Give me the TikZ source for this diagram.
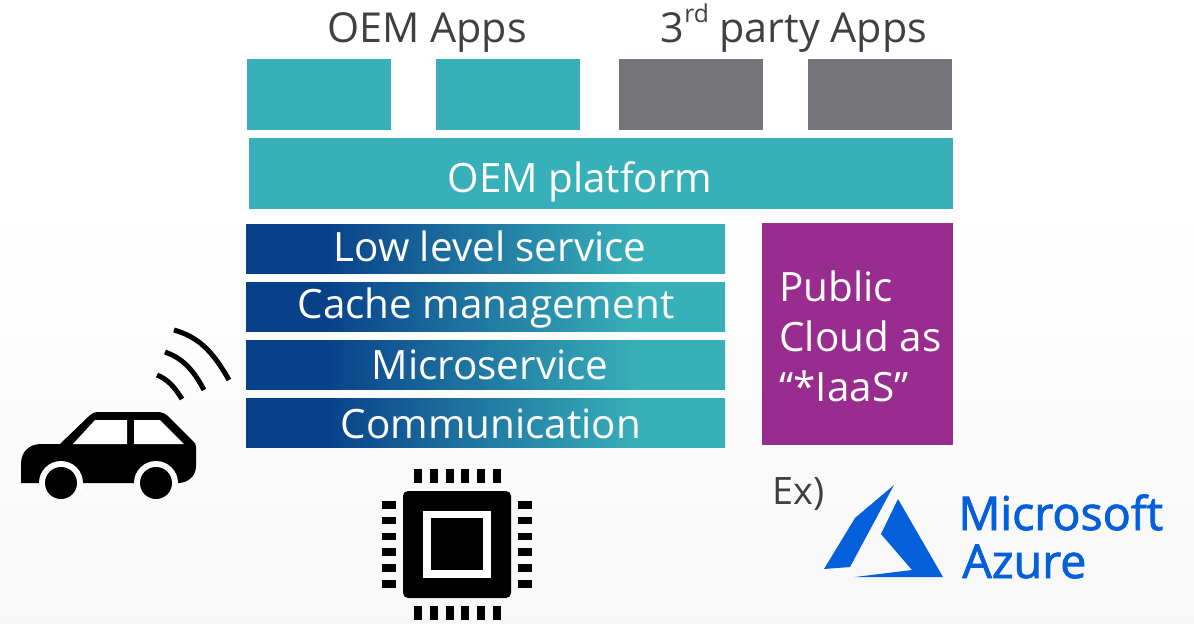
\documentclass[tikz,border=0pt]{standalone}
\usepackage{fontspec}
\setmainfont{Open Sans}
\newfontfamily\azurefont[FakeBold=1.8]{Open Sans}
\definecolor{tealbox}{HTML}{38B0B9}
\definecolor{greybox}{HTML}{757479}
\definecolor{bluebar}{HTML}{08408A}
\definecolor{purplebox}{HTML}{982D8F}
\definecolor{darktext}{HTML}{404040}
\definecolor{azureblue}{HTML}{045FDB}
\pgfdeclarehorizontalshading{barshade}{100bp}{color(0bp)=(bluebar); color(33bp)=(bluebar); color(66bp)=(tealbox); color(100bp)=(tealbox)}
\pgfdeclareverticalshading{backshade}{100bp}{color(0bp)=(black!3); color(25bp)=(black!3); color(59bp)=(white); color(100bp)=(white)}
\tikzset{
  box/.style={anchor=north west,inner sep=0pt,outer sep=0pt,minimum width=144*0.02cm,minimum height=71*0.02cm},
  bar/.style={anchor=north west,inner sep=0pt,outer sep=0pt,shading=barshade,minimum width=479*0.02cm,minimum height=49*0.02cm},
  bartext/.style={anchor=base,inner sep=0pt,text=white,font=\fontsize{23}{23}\selectfont},
  heading/.style={anchor=base,text=darktext,inner sep=0pt,font=\fontsize{23.5}{23.5}\selectfont},
  azuretext/.style={anchor=base west,inner sep=0pt,text=azureblue,font=\azurefont\fontsize{26.5}{26.5}\selectfont}
}
\begin{document}
\begin{tikzpicture}[x=0.02cm,y=-0.02cm]
\useasboundingbox (0,0) rectangle (1194,623);
\shade[shading=backshade] (0,0) rectangle (1194,623);
\node[heading] at (427,42) (oemapps) {OEM Apps}; \node[heading] at (794,42) (thirdapps) {3{\fontsize{14}{14}\selectfont\raisebox{11pt}{rd}} party Apps};
\node[box,fill=tealbox] at (247,59) (app1) {}; \node[box,fill=tealbox] at (436,59) (app2) {};
\node[box,fill=greybox] at (619,59) (app3) {}; \node[box,fill=greybox] at (808,59) (app4) {};
\node[box,fill=tealbox,minimum width=704*0.02cm] at (249,138) (platform) {};
\node[bartext] at (580,192) (platformtext) {OEM platform};
\node[bar] at (246,224) (lowlevel) {}; \node[bartext] at (490,261) (lowleveltext) {Low level service};
\node[bar] at (246,282) (cache) {}; \node[bartext] at (486,318) (cachetext) {Cache management};
\node[bar] at (246,340) (micro) {}; \node[bartext] at (490,379) (microtext) {Microservice};
\node[bar] at (246,398) (comm) {}; \node[bartext] at (491,438) (commtext) {Communication};
\node[box,fill=purplebox,minimum width=191*0.02cm,minimum height=222*0.02cm] at (762,223) (cloud) {};
\node[anchor=west,inner sep=0pt,align=left,text=white,font=\fontsize{23}{28.5}\selectfont] at (779,336) (cloudtext) {Public\\Cloud as\\“*IaaS”};
\node[heading,anchor=west,font=\fontsize{21.5}{21.5}\selectfont] at (772,494) (ex) {Ex)};
\node[azuretext] at (958,530) (microsoft) {Microsoft};
\node[azuretext] at (962,578) (azure) {Azure};
% azure logo
\fill[azureblue] (894,485) -- (855,518) -- (824,569) -- (850,567) -- cycle;
\fill[azureblue] (898,499) -- (881,534) -- (912,570) -- (855,577) -- (943,577) -- cycle;
% chip
\fill[black,rounded corners=5*0.02cm] (403,491) rectangle (511,598);
\fill[white] (423,511) rectangle (491,578);
\fill[black] (431,518) rectangle (483,570);
\foreach \i in {0,...,5} {
  \fill[black] (414+15.8*\i,469) rectangle +(8,14);
  \fill[black] (414+15.8*\i,606) rectangle +(8,14);
  \fill[black] (382,501+15.8*\i) rectangle +(14,7.5);
  \fill[black] (518,501+15.8*\i) rectangle +(14,7.5);
}
% car
\fill[black] (21,483) -- (21,464) .. controls (21,452) and (29,444) .. (41,444) -- (60,444) -- (88,417) .. controls (91,414) and (94,412) .. (98,412)
  -- (158,412) .. controls (162,412) and (166,414) .. (169,417) -- (193,441) .. controls (195,443) and (196,444) .. (196,447) -- (196,466)
  .. controls (196,476) and (188,483) .. (178,483) -- cycle;
\fill[white] (73,444) -- (95,420) -- (127,420) -- (127,444) -- cycle;
\fill[white] (134,444) -- (134,420) -- (160,420) -- (184,444) -- cycle;
\foreach \cx in {61,156} {
  \fill[white] (\cx-22,483) arc[start angle=180,end angle=0,radius=22*0.02cm] -- (\cx+22,490) -- (\cx-22,490) -- cycle;
  \fill[black] (\cx,483) circle[radius=16*0.02cm];
}
% signal
\draw[black,line width=5*0.02cm] (157,375) .. controls (167,379) and (174,386) .. (182,399);
\draw[black,line width=5*0.02cm] (165,352) .. controls (182,358) and (193,369) .. (204,390);
\draw[black,line width=5*0.02cm] (174,330) .. controls (198,337) and (212,350) .. (229,380);
\end{tikzpicture}
\end{document}
